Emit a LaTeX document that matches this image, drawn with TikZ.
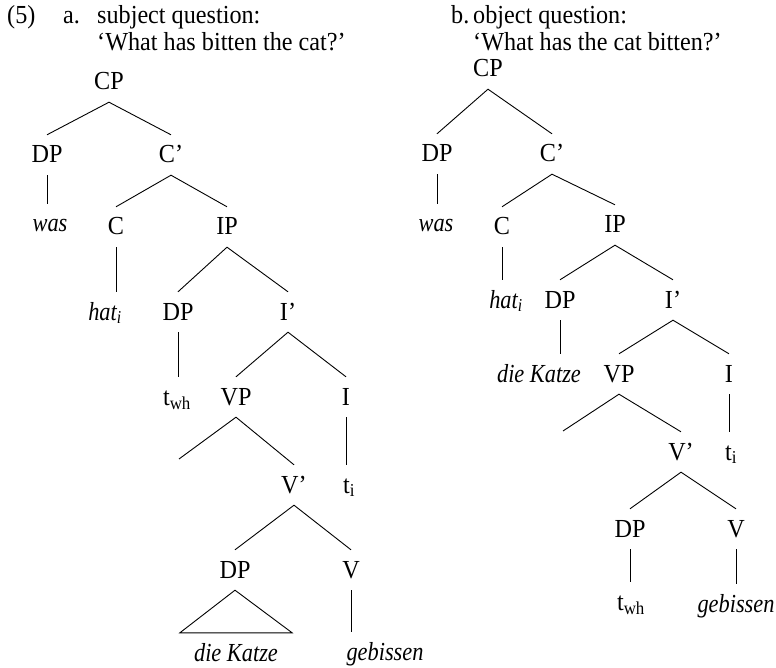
\documentclass[tikz,border=0pt]{standalone}
\usepackage{fontspec}
\setmainfont{Liberation Serif}[UprightFeatures={FakeStretch=0.93}, ItalicFeatures={FakeStretch=0.86}]
\begin{document}
\begin{tikzpicture}[x=1pt,y=-1pt,
  every node/.style={font=\fontsize{26}{30}\selectfont},
  lab/.style={anchor=base, inner xsep=0pt, inner ysep=12pt, text height=16pt, text depth=0pt},
  hd/.style={anchor=base west, inner sep=0pt},
  branch/.style={draw=black, line width=0.9pt}]
\useasboundingbox (0,0) rectangle (776,668);
% headings
\node[hd] (n5) at (7,24) {(5)};
\node[hd] (na) at (63,24) {a.};
\node[hd] (nasub) at (97,24) {subject question:};
\node[hd] (naq) at (97,51) {`What has bitten the cat?'};
\node[hd] (nb) at (451,24) {b.};
\node[hd] (nbsub) at (473,24) {object question:};
\node[hd] (nbq) at (473,51) {`What has the cat bitten?'};
% tree a
\node[lab] (a-cp) at (109,90) {CP};
\node[lab] (a-dp) at (47,163) {DP};
\node[lab] (a-was) at (50,232) {\textit{was}};
\node[lab] (a-cb) at (171,163) {C'};
\node[lab] (a-c) at (116,235) {C};
\node[lab] (a-hat) at (105,320) {\textit{hat\textsubscript{i}}};
\node[lab] (a-ip) at (227,235) {IP};
\node[lab] (a-dp2) at (178,320) {DP};
\node[lab] (a-twh) at (177,405) {t\textsubscript{wh}};
\node[lab] (a-ib) at (288,320) {I'};
\node[lab] (a-vp) at (236,405) {VP};
\coordinate (a-vpl) at (179,459);
\node[lab] (a-i) at (346,405) {I};
\node[lab] (a-vb) at (294,493) {V'};
\node[lab] (a-ti) at (349,493) {t\textsubscript{i}};
\node[lab] (a-dp3) at (235,578) {DP};
\node[lab] (a-v) at (351,578) {V};
\node[lab, inner xsep=14pt] (a-dk) at (236,661) {\textit{die Katze}};
\node[lab] (a-geb) at (385,660) {\textit{gebissen}};
\draw[branch] (a-dp.north) -- (a-cp.south) -- (a-cb.north);
\draw[branch] (a-dp.south) -- (a-dp.south |- a-was.north);
\draw[branch] (a-c.north) -- (a-cb.south) -- (a-ip.north);
\draw[branch] (a-c.south) -- (a-c.south |- a-hat.north);
\draw[branch] (a-dp2.north) -- (a-ip.south) -- (a-ib.north);
\draw[branch] (a-dp2.south) -- (a-dp2.south |- a-twh.north);
\draw[branch] (a-vp.north) -- (a-ib.south) -- (a-i.north);
\draw[branch] (a-vpl) -- (a-vp.south) -- (a-vb.north);
\draw[branch] (a-i.south) -- (a-i.south |- a-ti.north);
\draw[branch] (a-dp3.north) -- (a-vb.south) -- (a-v.north);
\draw[branch] (a-dp3.south) -- (a-dk.north west) -- (a-dk.north east) -- cycle;
\draw[branch] (a-v.south) -- (a-v.south |- a-geb.north);
% tree b
\node[lab] (b-cp) at (488,77) {CP};
\node[lab] (b-dp) at (437,162) {DP};
\node[lab] (b-was) at (436,232) {\textit{was}};
\node[lab] (b-cb) at (552,162) {C'};
\node[lab] (b-c) at (502,235) {C};
\node[lab] (b-hat) at (506,308) {\textit{hat\textsubscript{i}}};
\node[lab] (b-ip) at (615,233) {IP};
\node[lab] (b-dp2) at (560,308) {DP};
\node[lab] (b-dk) at (539,382) {\textit{die Katze}};
\node[lab] (b-ib) at (673,308) {I'};
\node[lab] (b-vp) at (619,382) {VP};
\coordinate (b-vpl) at (563,431);
\node[lab] (b-i) at (729,382) {I};
\node[lab] (b-vb) at (681,460) {V'};
\node[lab] (b-ti) at (731,460) {t\textsubscript{i}};
\node[lab] (b-dp3) at (630,537) {DP};
\node[lab] (b-v) at (736,537) {V};
\node[lab] (b-twh) at (631,610) {t\textsubscript{wh}};
\node[lab] (b-geb) at (736,612) {\textit{gebissen}};
\draw[branch] (b-dp.north) -- (b-cp.south) -- (b-cb.north);
\draw[branch] (b-dp.south) -- (b-dp.south |- b-was.north);
\draw[branch] (b-c.north) -- (b-cb.south) -- (b-ip.north);
\draw[branch] (b-c.south) -- (b-c.south |- b-hat.north);
\draw[branch] (b-dp2.north) -- (b-ip.south) -- (b-ib.north);
\draw[branch] (b-dp2.south) -- (b-dp2.south |- b-dk.north);
\draw[branch] (b-vp.north) -- (b-ib.south) -- (b-i.north);
\draw[branch] (b-vpl) -- (b-vp.south) -- (b-vb.north);
\draw[branch] (b-i.south) -- (b-i.south |- b-ti.north);
\draw[branch] (b-dp3.north) -- (b-vb.south) -- (b-v.north);
\draw[branch] (b-dp3.south) -- (b-dp3.south |- b-twh.north);
\draw[branch] (b-v.south) -- (b-v.south |- b-geb.north);
\end{tikzpicture}
\end{document}
